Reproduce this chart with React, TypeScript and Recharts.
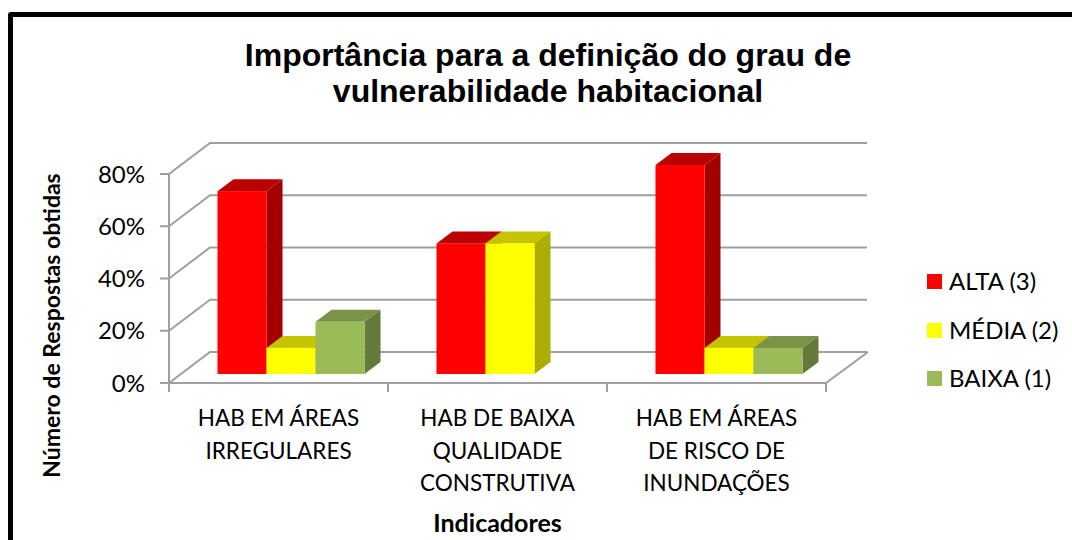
import React from "react";
import { BarChart, Bar, XAxis, YAxis, CartesianGrid, Legend } from "recharts";

const categories = ["HAB EM ÁREAS|IRREGULARES", "HAB DE BAIXA|QUALIDADE|CONSTRUTIVA", "HAB EM ÁREAS|DE RISCO DE|INUNDAÇÕES"];
const alta = [70, 50, 80];
const media = [10, 50, 10];
const baixa = [20, 0, 10];
const yTicks = [0, 20, 40, 60, 80];

const data = categories.map((name, i) => ({ name, alta: alta[i], media: media[i], baixa: baixa[i] }));

const GRID = "#9f9f9f";
const TEXT_FONT = "Lato, sans-serif";
const BAND = 219;

function box3d(front: string, top: string, side: string) {
  return (props: any) => {
    const { x, y, width, height } = props;
    if (!height || height <= 0) return <g />;
    const fx = x + 12.5;
    const fy = y - 9;
    const dx = 16;
    const dy = 12;
    return (
      <g>
        <path d={`M${fx} ${fy}l${dx} ${-dy}h${width}l${-dx} ${dy}z`} fill={top} />
        <path d={`M${fx + width} ${fy}l${dx} ${-dy}v${height}l${-dx} ${dy}z`} fill={side} />
        <rect x={fx} y={fy} width={width} height={height} fill={front} />
      </g>
    );
  };
}

const gridLine = (props: any) => {
  const { x1, x2, y1 } = props;
  const floor = y1 > 380;
  return (
    <g>
      <path d={`M${x1} ${y1}l41 -31H${x2 + 41}`} fill="none" stroke={GRID} strokeWidth={2} />
      {floor && <path d={`M${x2} ${y1}l42 -31`} fill="none" stroke={GRID} strokeWidth={2} />}
    </g>
  );
};

const CategoryTick = (props: any) => {
  const { x, payload, index } = props;
  const lines = String(payload.value).split("|");
  const left = x - BAND / 2;
  return (
    <g>
      <line x1={left} x2={left} y1={383} y2={392} stroke={GRID} strokeWidth={2} />
      {index === categories.length - 1 && (
        <line x1={left + BAND} x2={left + BAND} y1={383} y2={392} stroke={GRID} strokeWidth={2} />
      )}
      {lines.map((l, i) => (
        <text key={l} x={x} y={426 + i * 32.5} textAnchor="middle" fontFamily={TEXT_FONT} fontSize={22.5} fill="#000">
          {l}
        </text>
      ))}
    </g>
  );
};

const LegendBox = ({ payload }: any) => (
  <div>
    {(payload || []).map((p: any) => (
      <div key={p.value} style={{ position: "relative", height: 48.5, fontFamily: TEXT_FONT, fontSize: 24, color: "#000" }}>
        <span style={{ position: "absolute", left: 0, top: 0, width: 15, height: 15, background: p.color }} />
        <span style={{ position: "absolute", left: 22, top: -8, whiteSpace: "nowrap" }}>{p.value}</span>
      </div>
    ))}
  </div>
);

export default function App() {
  return (
    <div style={{ position: "absolute", left: 0, top: 0, width: 1072, height: 540, overflow: "hidden", background: "#fff" }}>
      <div style={{ position: "absolute", left: 8, top: 12, width: 1200, height: 800, border: "5px solid #000", borderRadius: 3 }} />
      <div style={{ position: "absolute", left: 148, top: 37, width: 800, textAlign: "center", fontFamily: "'Liberation Sans', Arial, sans-serif", fontWeight: 700, fontSize: 32, lineHeight: "36px", color: "#000" }}>
        Importância para a definição do grau de
        <br />
        vulnerabilidade habitacional
      </div>
      <BarChart width={1072} height={540} data={data} barCategoryGap={36} barGap={0} margin={{ top: 174, right: 106, bottom: 27, left: 69 }} style={{ position: "absolute", left: 0, top: 0 }}>
        <CartesianGrid vertical={false} horizontal={gridLine} />
        <XAxis dataKey="name" height={130} interval={0} tick={<CategoryTick />} tickLine={false} axisLine={{ stroke: GRID, strokeWidth: 2 }}
          label={{ value: "Indicadores", position: "insideBottom", offset: -19, style: { fontFamily: TEXT_FONT, fontSize: 25, fontWeight: 700, fill: "#000" } }} />
        <YAxis width={100} domain={[0, 80]} ticks={yTicks} interval={0} tickSize={9} tickMargin={15} tickFormatter={(v: number) => `${v}%`}
          tick={{ fontFamily: TEXT_FONT, fontSize: 24, fill: "#000" }} axisLine={{ stroke: GRID, strokeWidth: 2 }} tickLine={{ stroke: GRID, strokeWidth: 2 }}
          label={{ value: "Número de Respostas obtidas", angle: -90, position: "insideLeft", offset: -17, dy: 47, style: { fontFamily: TEXT_FONT, fontSize: 23, fontWeight: 700, fill: "#000", textAnchor: "middle" } }} />
        <Legend layout="vertical" align="right" verticalAlign="top" itemSorter={null} content={<LegendBox />} wrapperStyle={{ position: "absolute", left: 927, top: 274, width: 140 }} />
        <Bar dataKey="alta" name="ALTA (3)" fill="#ff0000" isAnimationActive={false} shape={box3d("#ff0000", "#bb0000", "#a50000")} />
        <Bar dataKey="media" name="MÉDIA (2)" fill="#ffff00" isAnimationActive={false} shape={box3d("#ffff00", "#c4c400", "#adad00")} />
        <Bar dataKey="baixa" name="BAIXA (1)" fill="#9bbb59" isAnimationActive={false} shape={box3d("#9bbb59", "#7a9346", "#657a3a")} />
      </BarChart>
    </div>
  );
}
